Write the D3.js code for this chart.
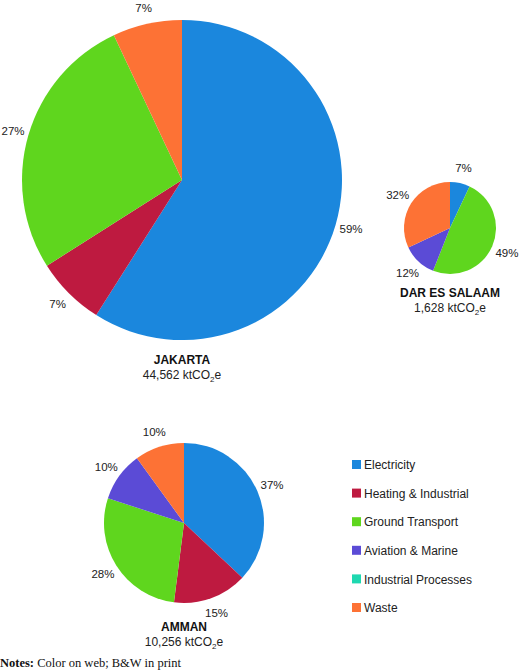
<!DOCTYPE html>
<html><head><meta charset="utf-8">
<script src="https://cdn.jsdelivr.net/npm/d3@7"></script>
<style>body{margin:0;background:#fff}text{font-family:"Liberation Sans",Arial,sans-serif}</style>
</head><body><div id="chart"></div>
<script>
const sectors = ["Electricity","Heating & Industrial","Ground Transport","Aviation & Marine","Industrial Processes","Waste"];
const colors = ["#1b87dd","#be1a40","#5fd61e","#5b4bd6","#1ed8b0","#fd7235"];
const cities = ["JAKARTA","DAR ES SALAAM","AMMAN"];
const totals = ["44,562","1,628","10,256"];
const jakarta = [59,7,27,0,0,7];
const darEsSalaam = [7,0,49,12,0,32];
const amman = [37,15,28,10,0,10];

const svg = d3.select("#chart").append("svg").attr("width",520).attr("height",671);

// layout per pie: center, radius, title y
const layout = [
  {cx:182, cy:180, r:160, ty:364},
  {cx:450, cy:228, r:46, ty:297},
  {cx:184, cy:523, r:80, ty:631}
];
const data = [jakarta, darEsSalaam, amman];
const color = d3.scaleOrdinal().domain(sectors).range(colors);
const pie = d3.pie().sort(null).value(d => d.v);

data.forEach((vals, i) => {
  const L = layout[i];
  const g = svg.append("g").attr("transform", `translate(${L.cx},${L.cy})`);
  const arcs = pie(vals.map((v,k) => ({name:sectors[k], v:v})));
  const arc = d3.arc().innerRadius(0).outerRadius(L.r);
  g.selectAll("path").data(arcs.filter(a => a.data.v > 0)).enter().append("path")
    .attr("d", arc).attr("fill", d => color(d.data.name));
  const lr = L.r + 16;
  g.selectAll("text.pct").data(arcs.filter(a => a.data.v > 0)).enter().append("text")
    .attr("class","pct")
    .attr("x", d => Math.sin((d.startAngle+d.endAngle)/2)*lr)
    .attr("y", d => -Math.cos((d.startAngle+d.endAngle)/2)*lr)
    .attr("dy","0.35em").attr("text-anchor","middle")
    .attr("font-size",11.5).attr("fill","#222")
    .text(d => d.data.v + "%");
  svg.append("text").attr("x",L.cx).attr("y",L.ty).attr("text-anchor","middle")
    .attr("font-size",12).attr("font-weight","bold").attr("fill","#111").text(cities[i]);
  const t = svg.append("text").attr("x",L.cx).attr("y",L.ty+15).attr("text-anchor","middle")
    .attr("font-size",12).attr("fill","#222");
  t.append("tspan").text(totals[i] + " ktCO");
  t.append("tspan").attr("font-size",8).attr("dy",3).text("2");
  t.append("tspan").attr("dy",-3).text("e");
});

// legend
const ly = d3.scalePoint().domain(sectors).range([465,608]);
const lg = svg.append("g");
lg.selectAll("rect").data(sectors).enter().append("rect")
  .attr("x",352).attr("y",d => ly(d)-5).attr("width",9).attr("height",9)
  .attr("fill", d => color(d));
lg.selectAll("text").data(sectors).enter().append("text")
  .attr("x",364).attr("y",d => ly(d)).attr("dy","0.35em")
  .attr("font-size",12).attr("fill","#222").text(d => d);

const note = svg.append("text").attr("x",0).attr("y",667)
  .style("font-family","'Liberation Serif','Times New Roman',serif").attr("font-size",12.5).attr("fill","#111");
note.append("tspan").attr("font-weight","bold").text("Notes:");
note.append("tspan").text(" Color on web; B&W in print");
</script></body></html>
